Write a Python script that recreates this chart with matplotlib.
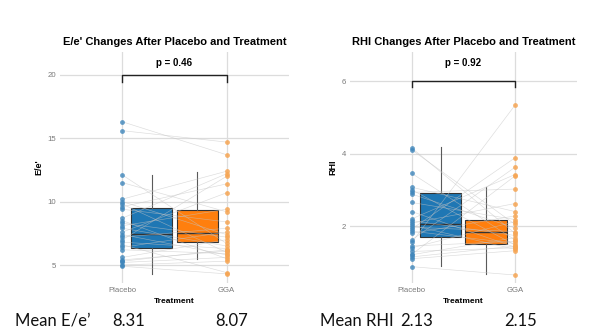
import matplotlib
matplotlib.use('Agg')
import matplotlib.pyplot as plt

# paired measurements, same patient at the same index
groups = ['Placebo', 'GGA']

ee_placebo = [16.3, 15.6, 12.1, 11.5, 10.2, 10.0, 9.8, 9.6, 9.4, 8.7, 8.5, 8.3, 8.1, 7.9,
              7.6, 7.4, 7.2, 7.0, 6.8, 6.6, 6.4, 6.2, 5.6, 5.4, 5.3, 5.2, 5.0, 4.9]
ee_gga = [13.7, 14.7, 6.7, 9.2, 12.4, 7.4, 6.0, 11.4, 8.4, 12.2, 5.5, 7.2, 9.4, 6.5,
          10.7, 5.8, 7.9, 12.0, 6.3, 4.4, 7.6, 5.9, 7.0, 6.1, 6.2, 5.6, 5.3, 4.3]

rhi_placebo = [4.15, 4.10, 3.45, 3.07, 3.00, 2.93, 2.88, 2.65, 2.40, 2.20, 2.15, 2.08, 2.02, 1.97,
               1.92, 1.86, 1.80, 1.62, 1.55, 1.45, 1.40, 1.30, 1.22, 1.21, 1.15, 1.10, 0.88]
rhi_gga = [1.80, 2.05, 1.62, 2.40, 1.48, 3.02, 1.95, 2.18, 1.42, 3.42, 1.74, 2.62, 1.36, 1.85,
           3.88, 1.52, 2.28, 3.62, 5.33, 1.58, 2.12, 1.40, 3.38, 1.68, 1.45, 1.32, 0.65]

# box summaries: whisker low, Q1, median, Q3, whisker high
ee_box = {'Placebo': [4.3, 6.34, 7.44, 9.5, 12.1], 'GGA': [5.5, 6.8, 7.5, 9.37, 12.35]}
rhi_box = {'Placebo': [0.9, 1.70, 2.05, 2.91, 4.18], 'GGA': [0.68, 1.50, 1.83, 2.17, 3.07]}

ee_p = 'p = 0.46'
rhi_p = 'p = 0.92'
ee_means = ['8.31', '8.07']
rhi_means = ['2.13', '2.15']

blue = '#1f77b4'
orange = '#ff7f0e'
pt_blue = '#3f86bb'
pt_orange = '#f6a553'
grid_c = '#dcdcdc'

plt.rcParams['font.family'] = ['Liberation Sans', 'DejaVu Sans']


def panel(ax, before, after, box, title, ylabel, yticks, ylim, bracket_y, tick_h, p_y, p_text):
    stats = []
    for g in groups:
        lo, q1, med, q3, hi = box[g]
        stats.append(dict(whislo=lo, q1=q1, med=med, q3=q3, whishi=hi, fliers=[]))
    bp = ax.bxp(stats, positions=[1.28, 1.72], widths=0.4, patch_artist=True,
                showcaps=False, showfliers=False, manage_ticks=False,
                boxprops=dict(edgecolor='#333333', linewidth=0.8),
                medianprops=dict(color='#333333', linewidth=1.0),
                whiskerprops=dict(color='#5a5a5a', linewidth=0.8))
    for patch, c in zip(bp['boxes'], [blue, orange]):
        patch.set_facecolor(c)
    for item in bp['boxes'] + bp['medians'] + bp['whiskers']:
        item.set_zorder(2)

    for a, b in zip(before, after):
        ax.plot([1, 2], [a, b], color='#c4c4c4', linewidth=0.45, alpha=0.6, zorder=3)
    ax.scatter([1] * len(before), before, s=12, color=pt_blue, alpha=0.8, linewidths=0, zorder=4)
    ax.scatter([2] * len(after), after, s=12, color=pt_orange, alpha=0.85, linewidths=0, zorder=4)

    ax.plot([1, 1, 2, 2], [bracket_y - tick_h, bracket_y, bracket_y, bracket_y - tick_h],
            color='#222222', linewidth=1.0, zorder=5, clip_on=False)
    ax.text(1.5, p_y, p_text, ha='center', va='center', fontsize=7, fontweight='bold')

    ax.set_xlim(0.4, 2.6)
    ax.set_ylim(*ylim)
    for s in ax.spines.values():
        s.set_visible(False)
    ax.set_xticks([1, 2])
    ax.set_xticklabels(groups)
    ax.set_yticks(yticks)
    ax.tick_params(length=0, colors='#7a7a7a', labelsize=5.6, pad=3)
    ax.grid(True, color=grid_c, linewidth=0.9)
    ax.set_axisbelow(True)

    ax.set_title(title, fontsize=8, fontweight='bold', pad=5)
    ax.set_xlabel('Treatment', fontsize=6, fontweight='bold', labelpad=3)
    ax.set_ylabel(ylabel, fontsize=6.5, fontweight='bold', labelpad=3)


fig = plt.figure(figsize=(6, 3.32), dpi=100)
ax1 = fig.add_axes([0.1, 0.1476, 0.3817, 0.6958])
ax2 = fig.add_axes([0.5833, 0.1476, 0.378, 0.6958])

panel(ax1, ee_placebo, ee_gga, ee_box, "E/e' Changes After Placebo and Treatment", "E/e'",
      [5, 10, 15, 20], (3.58, 21.81), 20.0, 0.55, 20.95, ee_p)
panel(ax2, rhi_placebo, rhi_gga, rhi_box, 'RHI Changes After Placebo and Treatment', 'RHI',
      [2, 4, 6], (0.43, 6.8), 6.0, 0.17, 6.5, rhi_p)

# mean values written underneath each panel
big = dict(fontsize=12, family=['Lato', 'DejaVu Sans'], va='baseline', ha='left', color='#111111')
base = 1 - 326 / 332
fig.text(15 / 600, base, "Mean E/e\u2019", **big)
fig.text(112 / 600, base, ee_means[0], **big)
fig.text(215 / 600, base, ee_means[1], **big)
fig.text(320 / 600, base, 'Mean RHI', **big)
fig.text(400 / 600, base, rhi_means[0], **big)
fig.text(504 / 600, base, rhi_means[1], **big)

fig.savefig('out.png', dpi=100)
plt.close(fig)
